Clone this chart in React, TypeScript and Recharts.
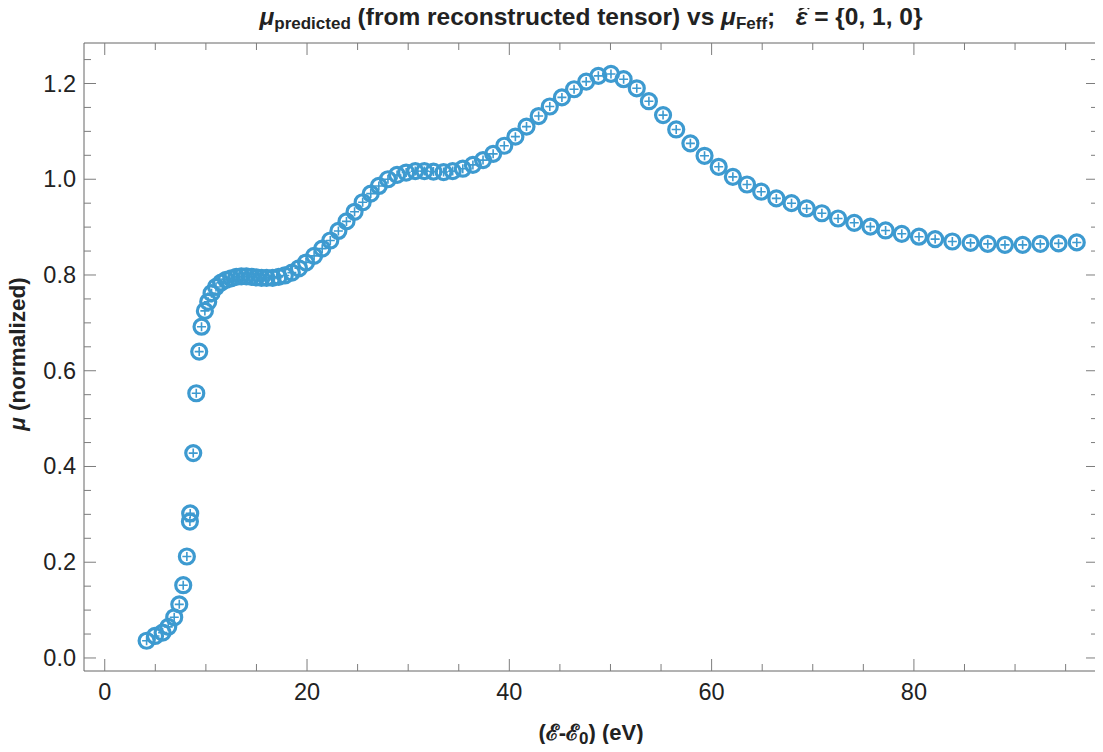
import React from "react";
import { ScatterChart, Scatter, XAxis, YAxis } from "recharts";

// energies (eV above the edge)
const energy = [
  4.14, 4.97, 5.72, 6.28, 6.87, 7.37, 7.76, 8.12, 8.42, 8.45,
  8.75, 9.05, 9.34, 9.57, 9.9, 10.23, 10.56, 11.0, 11.5, 12.0,
  12.5, 13.0, 13.5, 14.0, 14.5, 15.0, 15.5, 16.0, 16.6, 17.2,
  17.8, 18.5, 19.2, 19.9, 20.7, 21.5, 22.3, 23.1, 23.9, 24.7,
  25.5, 26.3, 27.1, 28.0, 28.9, 29.8, 30.7, 31.6, 32.5, 33.5,
  34.4, 35.4, 36.4, 37.4, 38.4, 39.5, 40.6, 41.7, 42.9, 44.0,
  45.2, 46.4, 47.6, 48.8, 50.05, 51.3, 52.6, 53.8, 55.2, 56.5,
  57.9, 59.3, 60.7, 62.1, 63.5, 64.9, 66.4, 67.9, 69.4, 70.9,
  72.5, 74.1, 75.7, 77.2, 78.8, 80.5, 82.1, 83.8, 85.6, 87.3,
  89.0, 90.75, 92.5, 94.3, 96.1,
];

const muPredicted = [
  0.036, 0.046, 0.053, 0.065, 0.085, 0.112, 0.152, 0.212, 0.285, 0.302,
  0.428, 0.553, 0.64, 0.692, 0.725, 0.744, 0.762, 0.775, 0.784, 0.79,
  0.793, 0.796, 0.797, 0.797, 0.796, 0.795, 0.794, 0.794, 0.794, 0.796,
  0.799, 0.805, 0.814, 0.826, 0.84, 0.855, 0.872, 0.892, 0.912, 0.932,
  0.952, 0.97, 0.986, 1.0, 1.009, 1.014, 1.017, 1.017, 1.016, 1.015,
  1.017, 1.022, 1.03, 1.04, 1.053, 1.07, 1.089, 1.11, 1.132, 1.152,
  1.171, 1.188, 1.204, 1.216, 1.22, 1.209, 1.19, 1.163, 1.134, 1.104,
  1.075, 1.049, 1.026, 1.005, 0.989, 0.974, 0.96, 0.95, 0.939, 0.929,
  0.918, 0.909, 0.901, 0.893, 0.886, 0.88, 0.875, 0.87, 0.867, 0.865,
  0.863, 0.863, 0.865, 0.866, 0.868,
];

// the Feff reference sits right on top of the prediction at this scale
const muFeff = muPredicted;

const xTicks = Array.from({ length: 20 }, (_, i) => i * 5); // labels every 20
const yTicks = Array.from({ length: 26 }, (_, i) => +(i * 0.05).toFixed(2)); // labels every 0.2

const X_DOMAIN = [-2.05, 98.2];
const Y_DOMAIN = [-0.0272, 1.2846];

const BLUE = "#3d9ad0";
const FRAME = "#666";
const TICK = "#7d7d7d";
const FONT = "'Liberation Sans', Arial, sans-serif";

const predictedData = energy.map((e, i) => ({ x: e, y: muPredicted[i] }));
const feffData = energy.map((e, i) => ({ x: e, y: muFeff[i] }));

const isMajorX = (v: number) => v % 20 === 0;
const isMajorY = (v: number) => Math.abs(v * 5 - Math.round(v * 5)) < 1e-6;

const Ring = (p: any) => (
  <circle cx={p.cx} cy={p.cy} r={7.5} fill="none" stroke={BLUE} strokeWidth={3.2} />
);
const Plus = (p: any) => (
  <path
    d={`M${p.cx - 4.5},${p.cy}h9M${p.cx},${p.cy - 4.5}v9`}
    stroke={BLUE}
    strokeWidth={1.6}
    fill="none"
  />
);

const BottomTick = ({ x, y, payload }: any) => {
  const major = isMajorX(payload.value);
  return (
    <g>
      <line x1={x} x2={x} y1={y} y2={y - (major ? 12 : 7)} stroke={TICK} />
      {major && (
        <text x={x} y={y + 21} textAnchor="middle" dominantBaseline="central"
          fontSize={23.5} fontFamily={FONT} fill="#222">
          {payload.value}
        </text>
      )}
    </g>
  );
};
const TopTick = ({ x, y, payload }: any) => (
  <line x1={x} x2={x} y1={y} y2={y + (isMajorX(payload.value) ? 12 : 7)} stroke={TICK} />
);
const LeftTick = ({ x, y, payload }: any) => {
  const major = isMajorY(payload.value);
  return (
    <g>
      <line x1={x} x2={x + (major ? 12 : 7)} y1={y} y2={y} stroke={TICK} />
      {major && (
        <text x={x - 8} y={y} textAnchor="end" dominantBaseline="central"
          fontSize={23.5} fontFamily={FONT} fill="#222">
          {payload.value.toFixed(1)}
        </text>
      )}
    </g>
  );
};
const RightTick = ({ x, y, payload }: any) => (
  <line x1={x} x2={x - (isMajorY(payload.value) ? 12 : 7)} y1={y} y2={y} stroke={TICK} />
);

const subStyle: React.CSSProperties = { fontSize: 17, verticalAlign: -4, lineHeight: 0 };

export default function App() {
  return (
    <div style={{ position: "relative", width: 1095, height: 744, marginBottom: -8 }}>
      <ScatterChart width={1095} height={744} margin={{ top: 0, right: 0, bottom: 0, left: 0 }}>
        <XAxis xAxisId="b" type="number" dataKey="x" domain={X_DOMAIN} allowDataOverflow
          ticks={xTicks} interval={0} height={81} tickSize={0} tickMargin={0}
          tickLine={false} axisLine={{ stroke: FRAME }} tick={<BottomTick />} />
        <XAxis xAxisId="t" orientation="top" type="number" dataKey="x" domain={X_DOMAIN} allowDataOverflow
          ticks={xTicks} interval={0} height={35} tickSize={0} tickMargin={0}
          tickLine={false} axisLine={{ stroke: FRAME }} tick={<TopTick />} />
        <YAxis yAxisId="l" type="number" dataKey="y" domain={Y_DOMAIN} allowDataOverflow
          ticks={yTicks} interval={0} width={76} tickSize={0} tickMargin={0}
          tickLine={false} axisLine={{ stroke: FRAME }} tick={<LeftTick />} />
        <YAxis yAxisId="r" orientation="right" type="number" dataKey="y" domain={Y_DOMAIN} allowDataOverflow
          ticks={yTicks} interval={0} width={5} tickSize={0} tickMargin={0}
          tickLine={false} axisLine={{ stroke: FRAME }} tick={<RightTick />} />
        <Scatter name="μ predicted" data={predictedData} xAxisId="b" yAxisId="l"
          shape={Ring} isAnimationActive={false} />
        <Scatter name="μ Feff" data={feffData} xAxisId="t" yAxisId="r"
          shape={Plus} isAnimationActive={false} />
      </ScatterChart>

      <div style={{ position: "absolute", left: 76, width: 1014, top: -4, height: 26, lineHeight: "26px",
        textAlign: "center", whiteSpace: "pre", fontFamily: FONT, fontWeight: "bold", fontSize: 24.5, color: "#222" }}>
        <i>μ</i><span style={subStyle}>predicted</span> (from reconstructed tensor) vs <i>μ</i>
        <span style={subStyle}>Feff</span>;{"   "}
        <span style={{ position: "relative", display: "inline-block" }}>
          <i>ε</i>
          <svg width={16} height={10} style={{ position: "absolute", left: 1, top: -3 }}>
            <path d="M2,9 L13,3" stroke="#222" strokeWidth={2.2} fill="none" />
            <path d="M8,1.5 L14,2.5 L11,8" stroke="#222" strokeWidth={2} fill="none" />
          </svg>
        </span>
        {" = {0, 1, 0}"}
      </div>

      <div style={{ position: "absolute", left: -140, top: 334, width: 300, height: 24, lineHeight: "24px",
        textAlign: "center", transform: "rotate(-90deg)", whiteSpace: "pre",
        fontFamily: FONT, fontWeight: "bold", fontSize: 22.5, color: "#222" }}>
        <i>μ</i> (normalized)
      </div>

      <div style={{ position: "absolute", left: 76, width: 1014, top: 713, height: 24, lineHeight: "24px",
        textAlign: "center", whiteSpace: "pre", fontFamily: FONT, fontWeight: "bold", fontSize: 22, color: "#222" }}>
        (ℰ-ℰ<span style={subStyle}>0</span>) (eV)
      </div>
    </div>
  );
}
